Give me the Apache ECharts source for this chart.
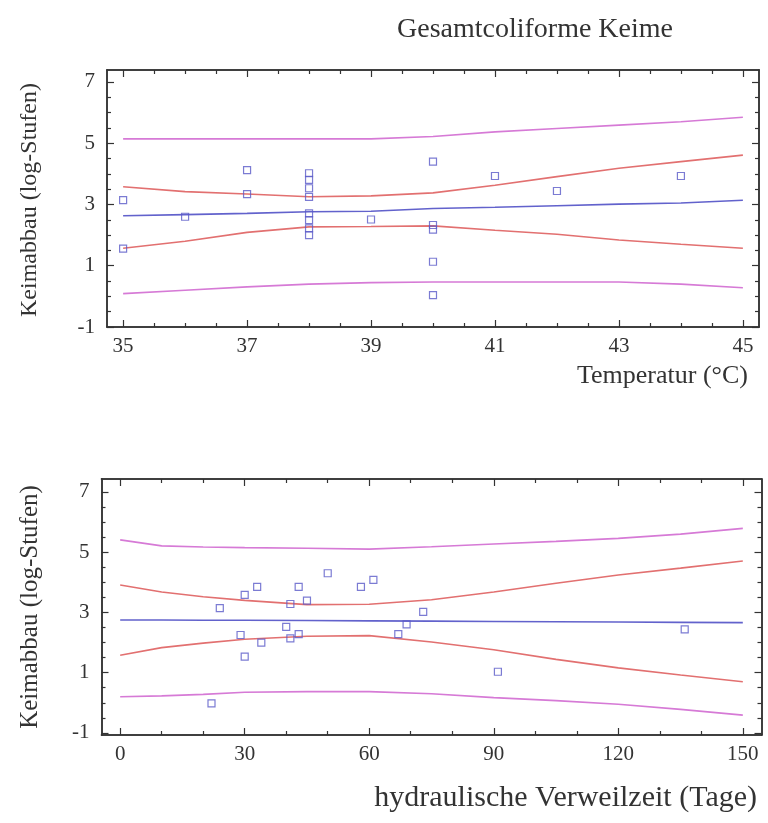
<!DOCTYPE html>
<html><head><meta charset="utf-8">
<script src="https://cdn.jsdelivr.net/npm/echarts@6/dist/echarts.min.js"></script>
<style>html,body{margin:0;padding:0;background:#fff}#c{width:768px;height:823px}</style>
</head><body><div id="c"></div>
<script>
const chartTitle = 'Gesamtcoliforme Keime';
const yName = 'Keimabbau (log-Stufen)';
const tempName = 'Temperatur (°C)';
const hrtName = 'hydraulische Verweilzeit (Tage)';

// Top panel: temperature
const tempX = [35, 35, 36, 37, 37, 38, 38, 38, 38, 38, 38, 38, 38, 39, 40, 40, 40, 40, 40, 41, 42, 44];
const tempY = [3.14, 1.56, 2.60, 4.12, 3.34, 4.02, 3.80, 3.53, 3.25, 2.71, 2.49, 2.22, 2.00, 2.51, 4.40, 2.33, 2.18, 1.13, 0.04, 3.93, 3.44, 3.93];
const tempLineX = [35, 36, 37, 38, 39, 40, 41, 42, 43, 44, 45];
const tempUpperPred = [5.14, 5.14, 5.14, 5.14, 5.14, 5.22, 5.37, 5.48, 5.59, 5.70, 5.85];
const tempUpperConf = [3.58, 3.42, 3.34, 3.25, 3.28, 3.38, 3.63, 3.91, 4.18, 4.40, 4.61];
const tempFit       = [2.63, 2.67, 2.71, 2.76, 2.78, 2.87, 2.91, 2.96, 3.01, 3.05, 3.14];
const tempLowerConf = [1.57, 1.80, 2.09, 2.27, 2.28, 2.30, 2.16, 2.03, 1.84, 1.70, 1.57];
const tempLowerPred = [0.09, 0.20, 0.31, 0.40, 0.45, 0.47, 0.47, 0.47, 0.47, 0.40, 0.28];

// Bottom panel: hydraulic retention time
const hrtX = [24, 30, 33, 43, 50, 58, 61, 41, 45, 29, 34, 40, 41, 43, 30, 22, 73, 69, 67, 136, 91];
const hrtY = [3.14, 3.58, 3.85, 3.85, 4.30, 3.85, 4.08, 3.28, 3.39, 2.25, 2.00, 2.52, 2.14, 2.28, 1.53, -0.02, 3.02, 2.60, 2.28, 2.44, 1.03];
const hrtLineX = [0, 10, 20, 30, 45, 60, 75, 90, 105, 120, 135, 150];
const hrtUpperPred = [5.41, 5.21, 5.17, 5.15, 5.13, 5.10, 5.18, 5.27, 5.36, 5.46, 5.60, 5.79];
const hrtUpperConf = [3.91, 3.68, 3.52, 3.40, 3.26, 3.27, 3.42, 3.68, 3.97, 4.24, 4.47, 4.71];
const hrtFit       = [2.75, 2.75, 2.74, 2.74, 2.73, 2.72, 2.71, 2.70, 2.69, 2.68, 2.67, 2.66];
const hrtLowerConf = [1.58, 1.83, 1.98, 2.11, 2.21, 2.23, 2.02, 1.76, 1.44, 1.16, 0.92, 0.70];
const hrtLowerPred = [0.20, 0.23, 0.28, 0.35, 0.37, 0.37, 0.30, 0.17, 0.07, -0.05, -0.22, -0.41];

// Ticks
const tempMajor = [35, 37, 39, 41, 43, 45];
const tempMinor = [35.5, 36, 36.5, 37.5, 38, 38.5, 39.5, 40, 40.5, 41.5, 42, 42.5, 43.5, 44, 44.5];
const hrtMajor = [0, 30, 60, 90, 120, 150];
const hrtMinor = [10, 20, 40, 50, 70, 80, 100, 110, 130, 140];
const yMajor = [-1, 1, 3, 5, 7];
const yMinor = [-0.5, 0, 0.5, 1.5, 2, 2.5, 3.5, 4, 4.5, 5.5, 6, 6.5];

const FONT = 'Liberation Serif';
const INK = '#333';
const C_PRED = '#d67ad6';
const C_CONF = '#e27070';
const C_FIT = '#6262cc';
const C_PT = '#5a5ac8';

function pair(xs, ys) { return xs.map((x, i) => [x, ys[i]]); }

function axesFor(kind, gridIndex, min, max, major, minor, posMain, posOpp) {
  const base = (pos, ticks, len, showLabel) => ({
    type: 'value', gridIndex, min, max, position: pos,
    splitLine: { show: false },
    axisLine: { show: true, onZero: false, lineStyle: { color: INK, width: 1.5 } },
    axisTick: { show: true, inside: true, length: len, customValues: ticks, lineStyle: { color: INK, width: 1.2 } },
    axisLabel: showLabel ? { show: true, customValues: major, fontFamily: FONT, fontSize: 21, color: INK, margin: kind === 'x' ? 9 : 12 } : { show: false }
  });
  return [
    base(posMain, major, 7, true),
    base(posMain, minor, 4, false),
    base(posOpp, major, 7, false),
    base(posOpp, minor, 4, false)
  ];
}

function lineSeries(xi, yi, xs, ys, color) {
  return { type: 'line', xAxisIndex: xi, yAxisIndex: yi, data: pair(xs, ys), showSymbol: false, symbol: 'none',
    lineStyle: { color, width: 1.6 }, z: 2, silent: true };
}
function ptSeries(xi, yi, xs, ys) {
  return { type: 'scatter', xAxisIndex: xi, yAxisIndex: yi, data: pair(xs, ys), symbol: 'rect', symbolSize: 7,
    itemStyle: { color: 'rgba(255,255,255,0)', borderColor: C_PT, borderWidth: 1.2 }, z: 3 };
}

const chart = echarts.init(document.getElementById('c'), null, { renderer: 'canvas' });
const option = {
  backgroundColor: '#fff',
  animation: false,
  grid: [
    { left: 107, top: 70, width: 652, height: 257, containLabel: false, outerBoundsMode: 'none' },
    { left: 101.5, top: 479, width: 660, height: 256, containLabel: false, outerBoundsMode: 'none' }
  ],
  xAxis: [
    ...axesFor('x', 0, 34.74, 45.26, tempMajor, tempMinor, 'bottom', 'top'),
    ...axesFor('x', 1, -4.5, 154.5, hrtMajor, hrtMinor, 'bottom', 'top')
  ],
  yAxis: [
    ...axesFor('y', 0, -1.0, 7.39, yMajor, yMinor, 'left', 'right'),
    ...axesFor('y', 1, -1.07, 7.43, yMajor, yMinor, 'left', 'right')
  ],
  series: [
    lineSeries(0, 0, tempLineX, tempUpperPred, C_PRED),
    lineSeries(0, 0, tempLineX, tempUpperConf, C_CONF),
    lineSeries(0, 0, tempLineX, tempFit, C_FIT),
    lineSeries(0, 0, tempLineX, tempLowerConf, C_CONF),
    lineSeries(0, 0, tempLineX, tempLowerPred, C_PRED),
    ptSeries(0, 0, tempX, tempY),
    lineSeries(4, 4, hrtLineX, hrtUpperPred, C_PRED),
    lineSeries(4, 4, hrtLineX, hrtUpperConf, C_CONF),
    lineSeries(4, 4, hrtLineX, hrtFit, C_FIT),
    lineSeries(4, 4, hrtLineX, hrtLowerConf, C_CONF),
    lineSeries(4, 4, hrtLineX, hrtLowerPred, C_PRED),
    ptSeries(4, 4, hrtX, hrtY)
  ],
  graphic: [
    { type: 'text', x: 535, y: 30, style: { text: chartTitle, fontFamily: FONT, fontSize: 28, fill: INK, align: 'center', verticalAlign: 'middle', textAlign: 'center', textVerticalAlign: 'middle' } },
    { type: 'text', x: 748, y: 376, style: { text: tempName, fontFamily: FONT, fontSize: 26, fill: INK, align: 'right', verticalAlign: 'middle', textAlign: 'right', textVerticalAlign: 'middle' } },
    { type: 'text', x: 757, y: 798, style: { text: hrtName, fontFamily: FONT, fontSize: 30, fill: INK, align: 'right', verticalAlign: 'middle', textAlign: 'right', textVerticalAlign: 'middle' } },
    { type: 'text', x: 30, y: 200, rotation: Math.PI / 2, style: { text: yName, fontFamily: FONT, fontSize: 24, fill: INK, align: 'center', verticalAlign: 'middle', textAlign: 'center', textVerticalAlign: 'middle' } },
    { type: 'text', x: 30, y: 607, rotation: Math.PI / 2, style: { text: yName, fontFamily: FONT, fontSize: 25, fill: INK, align: 'center', verticalAlign: 'middle', textAlign: 'center', textVerticalAlign: 'middle' } }
  ]
};
chart.setOption(option);
</script>
</body></html>
